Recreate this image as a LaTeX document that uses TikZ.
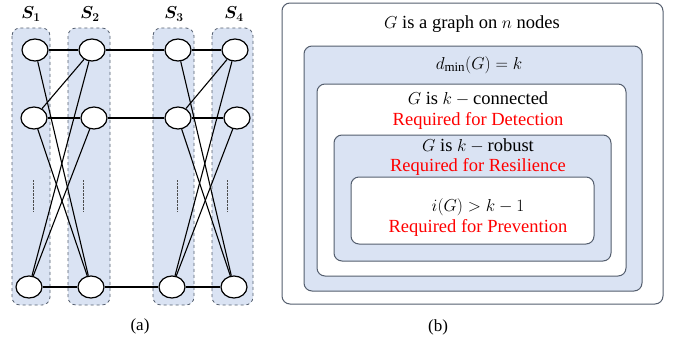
\documentclass[tikz,border=0pt]{standalone}
\usepackage{amsmath,bm}
\usepackage{fontspec}
\setmainfont{Liberation Serif}
\usetikzlibrary{shapes.geometric}
\definecolor{setblue}{RGB}{218,227,243}
\definecolor{boxgray}{RGB}{84,94,110}
\tikzset{
	vtx/.style={ellipse, draw, line width=1.2pt, fill=white, minimum width=26pt, minimum height=22pt, inner sep=0pt},
	edge/.style={line width=1.1pt},
	setcol/.style={draw=boxgray, dashed, fill=setblue, rounded corners=8pt, line width=0.8pt},
	layer/.style={draw=boxgray, rounded corners=8pt, line width=1pt},
	txt/.style={font=\fontsize{18.5}{22}\selectfont, inner sep=1pt},
	req/.style={txt, text=red},
	subcap/.style={font=\fontsize{17}{20}\selectfont},
}
\def\setlabel(#1)#2{\node[font=\fontsize{18}{21}\selectfont] at (#1) {$\bm{S_{#2}}$};}

\begin{document}
\begin{tikzpicture}[x=1pt, y=-1pt]
			%%%%% START %%%%%
			\useasboundingbox (0, 0) rectangle (673, 341);
			
			% (a) the four sets
			\draw[setcol] (12, 28) rectangle (50, 305);
			\draw[setcol] (68, 28) rectangle (110, 305);
			\draw[setcol] (153, 28) rectangle (194, 305);
			\draw[setcol] (212, 28) rectangle (253, 305);
			
			\setlabel(31, 14){1}
			\setlabel(90, 14){2}
			\setlabel(174, 14){3}
			\setlabel(234, 14){4}
			
			\draw[densely dotted, line width=0.4pt, black!70] (33, 180) -- (33, 211);
			\draw[densely dotted, line width=0.4pt, black!70] (83, 180) -- (83, 211);
			\draw[densely dotted, line width=0.4pt, black!70] (177, 180) -- (177, 211);
			\draw[densely dotted, line width=0.4pt, black!70] (227, 180) -- (227, 211);
			
			\node[vtx] (a1) at (35, 50) {};
			\node[vtx] (a2) at (34, 118) {};
			\node[vtx] (a3) at (29, 287) {};
			\node[vtx] (b1) at (92, 50) {};
			\node[vtx] (b2) at (94, 118) {};
			\node[vtx] (b3) at (91, 287) {};
			\node[vtx] (c1) at (178, 50) {};
			\node[vtx] (c2) at (178, 118) {};
			\node[vtx] (c3) at (172, 287) {};
			\node[vtx] (d1) at (235, 50) {};
			\node[vtx] (d2) at (237, 118) {};
			\node[vtx] (d3) at (234, 287) {};
			
			\draw[edge] (a1) -- (b1) -- (c1) -- (d1);
			\draw[edge] (a2) -- (b2) -- (c2) -- (d2);
			\draw[edge] (a3) -- (b3) -- (c3) -- (d3);
			
			\draw[edge] (a1) -- (b3);
			\draw[edge] (a2) -- (b1);
			\draw[edge] (a2) -- (b3);
			\draw[edge] (b1) -- (a3);
			\draw[edge] (b2) -- (a3);
			
			\draw[edge] (c1) -- (d3);
			\draw[edge] (c2) -- (d1);
			\draw[edge] (c2) -- (d3);
			\draw[edge] (d1) -- (c3);
			\draw[edge] (d2) -- (c3);
			
			\node[subcap] (capa) at (140, 326) {(a)};
			
			% (b) nested conditions
			\draw[layer, fill=white] (282, 3) rectangle (663, 304);
			\draw[layer, fill=setblue] (304, 46) rectangle (642, 291);
			\draw[layer, fill=white] (317, 84) rectangle (626, 276);
			\draw[layer, fill=setblue] (334, 135) rectangle (611, 261);
			\draw[layer, fill=white] (351, 177) rectangle (594, 244);
			
			\node[txt] (graph) at (472, 24) {$G$ is a graph on $n$ nodes};
			\node[txt] (dmin) at (479, 65) {$d_{\min}(G)=k$};
			\node[txt] (conn) at (478, 99) {$G$ is $k-{}$connected};
			\node[req] (detect) at (478, 121) {Required for Detection};
			\node[txt] (robust) at (478, 146) {$G$ is $k-{}$robust};
			\node[req] (resil) at (478, 167) {Required for Resilience};
			\node[txt] (iso) at (478, 207) {$i(G)>k-1$};
			\node[req] (prev) at (478, 228) {Required for Prevention};
			
			\node[subcap] (capb) at (438, 327) {(b)};
			%%%%% END %%%%%
\end{tikzpicture}
\end{document}
